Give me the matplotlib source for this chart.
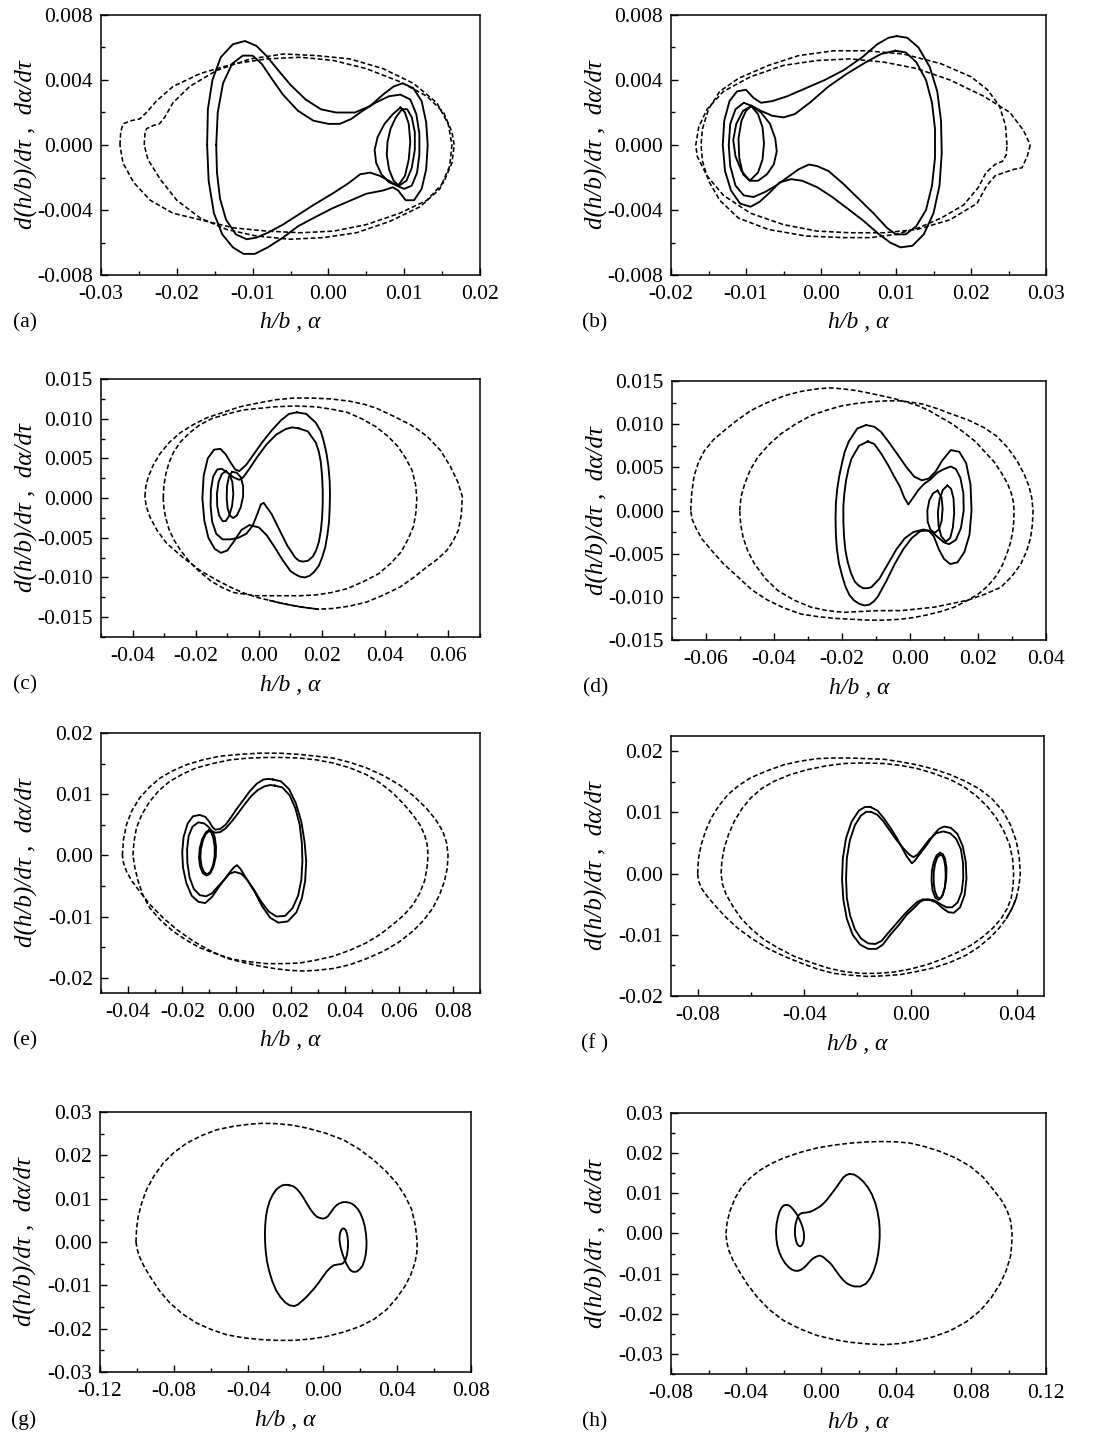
import matplotlib
matplotlib.use('Agg')
import matplotlib.pyplot as plt
from matplotlib.ticker import MultipleLocator, FuncFormatter

plt.rcParams['font.family'] = ['Liberation Serif', 'DejaVu Serif']
plt.rcParams['axes.unicode_minus'] = False

# ---------------- (a) ----------------
a_solid_outer = [(-0.0160, 0.0000), (-0.0159, 0.0022), (-0.0153, 0.0040), (-0.0142, 0.0054), (-0.0126, 0.0062),
                 (-0.0110, 0.0064), (-0.0095, 0.0061), (-0.0082, 0.0055), (-0.0068, 0.0047), (-0.0050, 0.0037),
                 (-0.0030, 0.0028), (-0.0010, 0.0022), (0.0010, 0.0020), (0.0035, 0.0020), (0.0055, 0.0024),
                 (0.0072, 0.0031), (0.0086, 0.0036), (0.0098, 0.0038), (0.0112, 0.0035), (0.0123, 0.0027),
                 (0.0129, 0.0014), (0.0131, 0.0000), (0.0129, -0.0015), (0.0123, -0.0027), (0.0113, -0.0034),
                 (0.0102, -0.0034), (0.0092, -0.0028), (0.0085, -0.0026), (0.0072, -0.0028), (0.0050, -0.0030),
                 (0.0025, -0.0035), (0.0005, -0.0039), (-0.0020, -0.0045), (-0.0040, -0.0050), (-0.0060, -0.0057),
                 (-0.0080, -0.0063), (-0.0097, -0.0067), (-0.0112, -0.0067), (-0.0126, -0.0063), (-0.0140, -0.0055),
                 (-0.0151, -0.0042), (-0.0158, -0.0022)]
a_solid_inner = [(-0.0148, 0.0000), (-0.0146, 0.0020), (-0.0139, 0.0038), (-0.0127, 0.0050), (-0.0113, 0.0055),
                 (-0.0100, 0.0055), (-0.0088, 0.0050), (-0.0075, 0.0041), (-0.0060, 0.0031), (-0.0040, 0.0021),
                 (-0.0020, 0.0015), (0.0000, 0.0013), (0.0015, 0.0013), (0.0030, 0.0016), (0.0045, 0.0021),
                 (0.0062, 0.0026), (0.0080, 0.0030), (0.0095, 0.0031), (0.0108, 0.0028), (0.0116, 0.0019),
                 (0.0120, 0.0007), (0.0120, -0.0006), (0.0117, -0.0017), (0.0110, -0.0025), (0.0100, -0.0027),
                 (0.0090, -0.0025), (0.0080, -0.0022), (0.0068, -0.0019), (0.0055, -0.0017), (0.0042, -0.0018),
                 (0.0025, -0.0024), (0.0005, -0.0030), (-0.0020, -0.0037), (-0.0040, -0.0043), (-0.0060, -0.0049),
                 (-0.0080, -0.0054), (-0.0095, -0.0057), (-0.0108, -0.0058), (-0.0122, -0.0055), (-0.0135, -0.0046),
                 (-0.0143, -0.0033), (-0.0147, -0.0017)]
a_solid_lemon1 = [(0.0095, 0.0023), (0.0085, 0.0019), (0.0074, 0.0013), (0.0065, 0.0005), (0.0061, -0.0003),
                  (0.0063, -0.0011), (0.0070, -0.0018), (0.0080, -0.0023), (0.0092, -0.0025), (0.0101, -0.0019),
                  (0.0106, -0.0009), (0.0108, 0.0002), (0.0106, 0.0013), (0.0101, 0.0020)]
a_solid_lemon2 = [(0.0097, 0.0022), (0.0089, 0.0017), (0.0082, 0.0010), (0.0078, 0.0002), (0.0077, -0.0006),
                  (0.0080, -0.0015), (0.0086, -0.0022), (0.0093, -0.0025), (0.0103, -0.0022), (0.0110, -0.0014),
                  (0.0114, -0.0003), (0.0114, 0.0008), (0.0110, 0.0017), (0.0104, 0.0022)]
a_dash_wide = [(-0.0275, 0.0000), (-0.0274, 0.0008), (-0.0271, 0.0013), (-0.0260, 0.0015), (-0.0249, 0.0016),
               (-0.0240, 0.0020), (-0.0227, 0.0027), (-0.0205, 0.0036), (-0.0169, 0.0044), (-0.0125, 0.0050),
               (-0.0081, 0.0053), (-0.0037, 0.0054), (0.0007, 0.0052), (0.0050, 0.0047), (0.0094, 0.0039),
               (0.0130, 0.0030), (0.0152, 0.0020), (0.0163, 0.0008), (0.0166, 0.0000), (0.0163, -0.0011),
               (0.0152, -0.0023), (0.0130, -0.0034), (0.0094, -0.0042), (0.0050, -0.0049), (0.0007, -0.0053),
               (-0.0037, -0.0054), (-0.0081, -0.0053), (-0.0125, -0.0051), (-0.0169, -0.0046), (-0.0205, -0.0042),
               (-0.0235, -0.0034), (-0.0257, -0.0023), (-0.0271, -0.0011)]
a_dash_narrow = [(-0.0243, 0.0000), (-0.0242, 0.0007), (-0.0240, 0.0010), (-0.0231, 0.0012), (-0.0223, 0.0013),
                 (-0.0216, 0.0017), (-0.0205, 0.0026), (-0.0183, 0.0036), (-0.0147, 0.0046), (-0.0103, 0.0053),
                 (-0.0059, 0.0056), (-0.0015, 0.0055), (0.0028, 0.0053), (0.0072, 0.0047), (0.0112, 0.0038),
                 (0.0143, 0.0026), (0.0158, 0.0013), (0.0163, 0.0000), (0.0160, -0.0013), (0.0147, -0.0027),
                 (0.0121, -0.0038), (0.0081, -0.0047), (0.0037, -0.0054), (-0.0007, -0.0057), (-0.0051, -0.0058),
                 (-0.0095, -0.0056), (-0.0134, -0.0052), (-0.0169, -0.0045), (-0.0200, -0.0034), (-0.0222, -0.0021),
                 (-0.0238, -0.0009)]

# ---------------- (b) ----------------
b_solid_outer = [(0.0101, 0.0067), (0.0115, 0.0066), (0.0130, 0.0060), (0.0145, 0.0048), (0.0155, 0.0033),
                 (0.0160, 0.0015), (0.0161, -0.0005), (0.0158, -0.0025), (0.0150, -0.0042), (0.0137, -0.0055),
                 (0.0122, -0.0062), (0.0106, -0.0063), (0.0092, -0.0060), (0.0075, -0.0054), (0.0055, -0.0046),
                 (0.0035, -0.0039), (0.0015, -0.0032), (-0.0005, -0.0026), (-0.0025, -0.0022), (-0.0040, -0.0021),
                 (-0.0055, -0.0023), (-0.0070, -0.0030), (-0.0082, -0.0035), (-0.0094, -0.0038), (-0.0108, -0.0036),
                 (-0.0120, -0.0028), (-0.0128, -0.0016), (-0.0131, 0.0000), (-0.0129, 0.0015), (-0.0122, 0.0027),
                 (-0.0112, 0.0033), (-0.0100, 0.0034), (-0.0090, 0.0029), (-0.0080, 0.0026), (-0.0065, 0.0027),
                 (-0.0045, 0.0030), (-0.0020, 0.0035), (0.0005, 0.0040), (0.0030, 0.0046), (0.0055, 0.0054),
                 (0.0075, 0.0062), (0.0090, 0.0066)]
b_solid_inner = [(0.0099, 0.0058), (0.0113, 0.0057), (0.0127, 0.0051), (0.0140, 0.0040), (0.0148, 0.0026),
                 (0.0152, 0.0010), (0.0152, -0.0008), (0.0148, -0.0025), (0.0140, -0.0040), (0.0127, -0.0050),
                 (0.0113, -0.0055), (0.0100, -0.0055), (0.0088, -0.0051), (0.0070, -0.0042), (0.0050, -0.0033),
                 (0.0030, -0.0024), (0.0010, -0.0016), (-0.0005, -0.0013), (-0.0016, -0.0012), (-0.0030, -0.0015),
                 (-0.0045, -0.0020), (-0.0060, -0.0025), (-0.0075, -0.0029), (-0.0090, -0.0032), (-0.0103, -0.0031),
                 (-0.0114, -0.0025), (-0.0121, -0.0013), (-0.0123, 0.0000), (-0.0121, 0.0013), (-0.0114, 0.0022),
                 (-0.0103, 0.0026), (-0.0092, 0.0024), (-0.0080, 0.0021), (-0.0065, 0.0018), (-0.0050, 0.0017),
                 (-0.0035, 0.0019), (-0.0015, 0.0026), (0.0010, 0.0036), (0.0035, 0.0044), (0.0060, 0.0051),
                 (0.0080, 0.0056)]
b_solid_lemon1 = [(-0.0093, 0.0024), (-0.0080, 0.0020), (-0.0068, 0.0013), (-0.0061, 0.0004), (-0.0059, -0.0004),
                  (-0.0063, -0.0012), (-0.0072, -0.0018), (-0.0084, -0.0022), (-0.0095, -0.0022), (-0.0106, -0.0016),
                  (-0.0114, -0.0007), (-0.0117, 0.0003), (-0.0113, 0.0013), (-0.0104, 0.0021)]
b_solid_lemon2 = [(-0.0093, 0.0024), (-0.0084, 0.0019), (-0.0078, 0.0011), (-0.0076, 0.0001), (-0.0078, -0.0009),
                  (-0.0084, -0.0017), (-0.0095, -0.0022), (-0.0104, -0.0018), (-0.0109, -0.0008), (-0.0110, 0.0004),
                  (-0.0106, 0.0015), (-0.0100, 0.0021)]
b_dash_wide = [(0.0279, 0.0000), (0.0275, -0.0007), (0.0268, -0.0014), (0.0257, -0.0015), (0.0244, -0.0017),
               (0.0232, -0.0019), (0.0221, -0.0025), (0.0208, -0.0036), (0.0172, -0.0046), (0.0128, -0.0052),
               (0.0084, -0.0054), (0.0039, -0.0054), (-0.0005, -0.0053), (-0.0050, -0.0049), (-0.0094, -0.0042),
               (-0.0130, -0.0031), (-0.0152, -0.0019), (-0.0165, -0.0007), (-0.0167, 0.0000), (-0.0163, 0.0011),
               (-0.0152, 0.0022), (-0.0130, 0.0033), (-0.0094, 0.0042), (-0.0050, 0.0049), (-0.0005, 0.0052),
               (0.0039, 0.0053), (0.0084, 0.0051), (0.0128, 0.0047), (0.0172, 0.0040), (0.0217, 0.0030),
               (0.0252, 0.0020), (0.0270, 0.0009)]
b_dash_narrow = [(0.0248, 0.0000), (0.0246, 0.0012), (0.0238, 0.0024), (0.0222, 0.0034), (0.0200, 0.0042),
                 (0.0160, 0.0050), (0.0110, 0.0056), (0.0060, 0.0058), (0.0017, 0.0058), (-0.0030, 0.0055),
                 (-0.0070, 0.0049), (-0.0110, 0.0041), (-0.0135, 0.0033), (-0.0150, 0.0022), (-0.0158, 0.0010),
                 (-0.0160, 0.0000), (-0.0158, -0.0010), (-0.0150, -0.0022), (-0.0135, -0.0034), (-0.0110, -0.0045),
                 (-0.0070, -0.0052), (-0.0020, -0.0056), (0.0030, -0.0057), (0.0066, -0.0057), (0.0100, -0.0055),
                 (0.0130, -0.0051), (0.0160, -0.0045), (0.0190, -0.0037), (0.0210, -0.0026), (0.0220, -0.0017),
                 (0.0232, -0.0012), (0.0242, -0.0010), (0.0247, -0.0006)]

# ---------------- (c) ----------------
c_solid_outer = [(0.0120, 0.0108), (0.0150, 0.0106), (0.0180, 0.0095), (0.0196, 0.0084), (0.0205, 0.0072),
                 (0.0214, 0.0056), (0.0220, 0.0040), (0.0224, 0.0022), (0.0225, 0.0005), (0.0224, -0.0013),
                 (0.0222, -0.0030), (0.0217, -0.0046), (0.0210, -0.0062), (0.0200, -0.0075), (0.0190, -0.0085),
                 (0.0175, -0.0093), (0.0160, -0.0098), (0.0145, -0.0100), (0.0130, -0.0099), (0.0115, -0.0096),
                 (0.0100, -0.0092), (0.0075, -0.0078), (0.0050, -0.0062), (0.0025, -0.0047),
                 (0.0000, -0.0037), (-0.0030, -0.0034), (-0.0055, -0.0040), (-0.0080, -0.0055), (-0.0100, -0.0066),
                 (-0.0120, -0.0069), (-0.0140, -0.0064), (-0.0160, -0.0050), (-0.0173, -0.0028), (-0.0179, 0.0000),
                 (-0.0175, 0.0028), (-0.0162, 0.0050), (-0.0142, 0.0061), (-0.0122, 0.0062), (-0.0105, 0.0055),
                 (-0.0090, 0.0045), (-0.0075, 0.0036), (-0.0062, 0.0034), (-0.0040, 0.0042), (-0.0015, 0.0056),
                 (0.0010, 0.0070), (0.0040, 0.0085), (0.0070, 0.0098), (0.0095, 0.0106)]
c_solid_inner = [(0.0125, 0.0088), (0.0155, 0.0084), (0.0180, 0.0070), (0.0190, 0.0058), (0.0196, 0.0045),
                 (0.0200, 0.0028), (0.0202, 0.0010), (0.0202, -0.0008), (0.0200, -0.0025), (0.0196, -0.0041),
                 (0.0190, -0.0055), (0.0181, -0.0066), (0.0170, -0.0074), (0.0155, -0.0079), (0.0140, -0.0080),
                 (0.0127, -0.0079), (0.0115, -0.0075),
                 (0.0090, -0.0060), (0.0065, -0.0040), (0.0040, -0.0020), (0.0015, -0.0006), (0.0006, -0.0008),
                 (-0.0005, -0.0020), (-0.0020, -0.0035), (-0.0040, -0.0045), (-0.0065, -0.0050), (-0.0090, -0.0052),
                 (-0.0115, -0.0052), (-0.0135, -0.0045), (-0.0148, -0.0030), (-0.0153, -0.0010), (-0.0152, 0.0010),
                 (-0.0145, 0.0027), (-0.0132, 0.0036), (-0.0118, 0.0037), (-0.0100, 0.0032), (-0.0080, 0.0026),
                 (-0.0062, 0.0023), (-0.0050, 0.0026), (-0.0030, 0.0037), (-0.0005, 0.0052), (0.0025, 0.0068),
                 (0.0055, 0.0080), (0.0085, 0.0087), (0.0105, 0.0089)]
c_solid_lemon1 = [(-0.0105, 0.0034), (-0.0118, 0.0030), (-0.0128, 0.0020), (-0.0133, 0.0005), (-0.0132, -0.0010),
                  (-0.0126, -0.0022), (-0.0115, -0.0029), (-0.0105, -0.0029), (-0.0094, -0.0022), (-0.0085, -0.0010),
                  (-0.0081, 0.0005), (-0.0084, 0.0020), (-0.0093, 0.0030)]
c_solid_lemon2 = [(-0.0085, 0.0033), (-0.0095, 0.0027), (-0.0101, 0.0015), (-0.0102, 0.0000), (-0.0099, -0.0013),
                  (-0.0092, -0.0022), (-0.0082, -0.0025), (-0.0070, -0.0022), (-0.0058, -0.0012), (-0.0050, 0.0002),
                  (-0.0050, 0.0015), (-0.0057, 0.0026), (-0.0070, 0.0032)]
c_dash_outer = [(-0.0361, 0.0002), (-0.0358, 0.0015), (-0.0350, 0.0027), (-0.0334, 0.0042), (-0.0313, 0.0056),
                (-0.0284, 0.0070), (-0.0250, 0.0082), (-0.0210, 0.0092), (-0.0166, 0.0101), (-0.0113, 0.0108),
                (-0.0060, 0.0115), (0.0000, 0.0120), (0.0056, 0.0124), (0.0110, 0.0126), (0.0162, 0.0126),
                (0.0225, 0.0125), (0.0288, 0.0122), (0.0335, 0.0118), (0.0373, 0.0113), (0.0427, 0.0103),
                (0.0482, 0.0092), (0.0532, 0.0078), (0.0575, 0.0060), (0.0606, 0.0040), (0.0630, 0.0020),
                (0.0644, 0.0002), (0.0641, -0.0020), (0.0632, -0.0040), (0.0615, -0.0054), (0.0595, -0.0066),
                (0.0565, -0.0077), (0.0531, -0.0087), (0.0490, -0.0100), (0.0447, -0.0112), (0.0395, -0.0122),
                (0.0341, -0.0131), (0.0288, -0.0136), (0.0236, -0.0139), (0.0188, -0.0140), (0.0130, -0.0137),
                (0.0077, -0.0133), (0.0035, -0.0129), (-0.0007, -0.0125), (-0.0045, -0.0120), (-0.0081, -0.0114),
                (-0.0135, -0.0103), (-0.0187, -0.0091), (-0.0240, -0.0075), (-0.0292, -0.0057), (-0.0322, -0.0041),
                (-0.0345, -0.0024), (-0.0357, -0.0010)]
# stretch of the outer dashed orbit that prints as a continuous line
c_dash_merged = [(0.0188, -0.0140), (0.0130, -0.0137), (0.0077, -0.0133), (0.0035, -0.0129)]
c_dash_inner = [(-0.0303, 0.0000), (-0.0301, 0.0015), (-0.0295, 0.0030), (-0.0285, 0.0044), (-0.0270, 0.0058),
                (-0.0248, 0.0071), (-0.0220, 0.0082), (-0.0188, 0.0092), (-0.0150, 0.0100), (-0.0100, 0.0106),
                (-0.0050, 0.0111), (0.0000, 0.0113), (0.0050, 0.0115), (0.0115, 0.0116), (0.0180, 0.0115),
                (0.0230, 0.0112), (0.0280, 0.0108), (0.0325, 0.0100), (0.0370, 0.0090), (0.0408, 0.0078),
                (0.0440, 0.0065), (0.0465, 0.0050), (0.0485, 0.0035), (0.0496, 0.0017), (0.0500, 0.0000),
                (0.0497, -0.0018), (0.0490, -0.0035), (0.0472, -0.0052), (0.0450, -0.0068), (0.0418, -0.0082),
                (0.0380, -0.0095), (0.0332, -0.0105), (0.0280, -0.0114), (0.0230, -0.0119), (0.0180, -0.0122),
                (0.0130, -0.0123), (0.0080, -0.0123), (0.0035, -0.0123), (-0.0010, -0.0123), (-0.0045, -0.0121),
                (-0.0080, -0.0119), (-0.0115, -0.0113), (-0.0150, -0.0105), (-0.0187, -0.0093), (-0.0220, -0.0080),
                (-0.0248, -0.0066), (-0.0270, -0.0052), (-0.0285, -0.0039), (-0.0295, -0.0025), (-0.0301, -0.0012)]

# ---------------- (d) ----------------
d_solid_outer = [(-0.0129, 0.0099), (-0.0155, 0.0095), (-0.0180, 0.0080), (-0.0192, 0.0068), (-0.0200, 0.0055),
                 (-0.0208, 0.0040), (-0.0214, 0.0025), (-0.0218, 0.0008), (-0.0219, -0.0010), (-0.0218, -0.0028),
                 (-0.0215, -0.0045), (-0.0209, -0.0061), (-0.0200, -0.0075), (-0.0190, -0.0088), (-0.0178, -0.0098),
                 (-0.0165, -0.0104), (-0.0150, -0.0108), (-0.0134, -0.0110), (-0.0119, -0.0109), (-0.0106, -0.0105),
                 (-0.0095, -0.0100), (-0.0070, -0.0082), (-0.0045, -0.0062), (-0.0020, -0.0045),
                 (0.0005, -0.0032), (0.0030, -0.0024), (0.0055, -0.0023), (0.0070, -0.0030), (0.0085, -0.0045),
                 (0.0100, -0.0056), (0.0118, -0.0062), (0.0140, -0.0060), (0.0160, -0.0048), (0.0175, -0.0028),
                 (0.0181, 0.0000), (0.0178, 0.0030), (0.0165, 0.0055), (0.0145, 0.0068), (0.0120, 0.0070),
                 (0.0095, 0.0058), (0.0075, 0.0045), (0.0055, 0.0037), (0.0035, 0.0035), (0.0013, 0.0039),
                 (-0.0010, 0.0050), (-0.0035, 0.0064), (-0.0060, 0.0078), (-0.0085, 0.0091), (-0.0105, 0.0097)]
d_solid_inner = [(-0.0124, 0.0080), (-0.0150, 0.0075), (-0.0172, 0.0060), (-0.0181, 0.0048), (-0.0188, 0.0035),
                 (-0.0193, 0.0020), (-0.0196, 0.0005), (-0.0196, -0.0013), (-0.0194, -0.0030), (-0.0190, -0.0046),
                 (-0.0183, -0.0060), (-0.0174, -0.0072), (-0.0163, -0.0082), (-0.0151, -0.0087), (-0.0138, -0.0090),
                 (-0.0126, -0.0090), (-0.0114, -0.0089),
                 (-0.0090, -0.0079), (-0.0065, -0.0062), (-0.0040, -0.0045), (-0.0015, -0.0032), (0.0010, -0.0025),
                 (0.0040, -0.0022), (0.0065, -0.0025), (0.0085, -0.0032), (0.0100, -0.0037), (0.0115, -0.0039),
                 (0.0135, -0.0034), (0.0150, -0.0020), (0.0158, 0.0000), (0.0157, 0.0020), (0.0148, 0.0038),
                 (0.0135, 0.0048), (0.0120, 0.0051), (0.0100, 0.0048), (0.0081, 0.0044), (0.0060, 0.0036),
                 (0.0042, 0.0031), (0.0025, 0.0024), (0.0013, 0.0017), (-0.0005, 0.0007), (-0.0017, 0.0015),
                 (-0.0030, 0.0028), (-0.0046, 0.0039), (-0.0065, 0.0053), (-0.0085, 0.0066), (-0.0105, 0.0077)]
d_solid_loop1 = [(0.0081, 0.0023), (0.0068, 0.0020), (0.0057, 0.0012), (0.0051, 0.0000), (0.0052, -0.0013),
                 (0.0060, -0.0022), (0.0072, -0.0026), (0.0085, -0.0022), (0.0093, -0.0012), (0.0096, 0.0002),
                 (0.0093, 0.0015)]
d_solid_loop2 = [(0.0110, 0.0029), (0.0097, 0.0024), (0.0087, 0.0013), (0.0082, -0.0002), (0.0084, -0.0018),
                 (0.0092, -0.0030), (0.0105, -0.0036), (0.0118, -0.0032), (0.0126, -0.0020), (0.0130, -0.0003),
                 (0.0128, 0.0014), (0.0121, 0.0025)]
d_dash_wide = [(-0.0645, 0.0000), (-0.0642, 0.0020), (-0.0635, 0.0040), (-0.0622, 0.0056), (-0.0605, 0.0069),
               (-0.0578, 0.0082), (-0.0545, 0.0093), (-0.0507, 0.0105), (-0.0467, 0.0116), (-0.0420, 0.0125),
               (-0.0369, 0.0133), (-0.0320, 0.0138), (-0.0271, 0.0141), (-0.0235, 0.0142), (-0.0200, 0.0141),
               (-0.0160, 0.0139), (-0.0120, 0.0136), (-0.0085, 0.0133), (-0.0050, 0.0130), (-0.0015, 0.0126),
               (0.0020, 0.0122), (0.0055, 0.0116), (0.0090, 0.0108), (0.0125, 0.0100), (0.0160, 0.0090),
               (0.0192, 0.0080), (0.0220, 0.0068), (0.0248, 0.0056), (0.0270, 0.0043), (0.0287, 0.0031),
               (0.0298, 0.0020), (0.0304, 0.0010), (0.0306, 0.0000), (0.0305, -0.0013), (0.0302, -0.0025),
               (0.0295, -0.0038), (0.0285, -0.0050), (0.0272, -0.0063), (0.0255, -0.0075), (0.0230, -0.0087),
               (0.0200, -0.0097), (0.0165, -0.0105), (0.0130, -0.0112), (0.0090, -0.0117), (0.0050, -0.0121),
               (0.0010, -0.0124), (-0.0030, -0.0126), (-0.0075, -0.0127), (-0.0120, -0.0127), (-0.0170, -0.0126),
               (-0.0220, -0.0125), (-0.0270, -0.0123), (-0.0320, -0.0120), (-0.0370, -0.0113), (-0.0418, -0.0104),
               (-0.0465, -0.0092), (-0.0506, -0.0077), (-0.0548, -0.0062), (-0.0584, -0.0046), (-0.0612, -0.0033),
               (-0.0630, -0.0020), (-0.0641, -0.0010)]
d_dash_narrow = [(-0.0501, 0.0000), (-0.0497, 0.0016), (-0.0486, 0.0031), (-0.0470, 0.0047), (-0.0447, 0.0062),
                 (-0.0416, 0.0076), (-0.0379, 0.0089), (-0.0337, 0.0100), (-0.0291, 0.0110), (-0.0247, 0.0116),
                 (-0.0203, 0.0121), (-0.0158, 0.0124), (-0.0114, 0.0126), (-0.0070, 0.0127), (-0.0026, 0.0127),
                 (0.0010, 0.0125), (0.0040, 0.0123), (0.0080, 0.0118), (0.0120, 0.0112), (0.0170, 0.0105),
                 (0.0218, 0.0096), (0.0255, 0.0086), (0.0287, 0.0073), (0.0314, 0.0058), (0.0336, 0.0042),
                 (0.0350, 0.0028), (0.0358, 0.0015), (0.0362, 0.0000), (0.0360, -0.0016), (0.0355, -0.0031),
                 (0.0343, -0.0047), (0.0326, -0.0062), (0.0300, -0.0076), (0.0267, -0.0089), (0.0220, -0.0097),
                 (0.0169, -0.0104), (0.0120, -0.0108), (0.0071, -0.0112), (0.0022, -0.0114), (-0.0026, -0.0116),
                 (-0.0060, -0.0116), (-0.0095, -0.0116), (-0.0145, -0.0117), (-0.0193, -0.0118), (-0.0243, -0.0116),
                 (-0.0291, -0.0112), (-0.0340, -0.0104), (-0.0388, -0.0093), (-0.0425, -0.0079), (-0.0457, -0.0062),
                 (-0.0477, -0.0047), (-0.0491, -0.0031), (-0.0498, -0.0016)]

# ---------------- (e) ----------------
e_solid_outer = [(0.0135, 0.0124), (0.0165, 0.0121), (0.0195, 0.0108), (0.0220, 0.0085), (0.0240, 0.0055),
                 (0.0252, 0.0022), (0.0258, -0.0010), (0.0254, -0.0042), (0.0242, -0.0070), (0.0222, -0.0093),
                 (0.0190, -0.0108), (0.0155, -0.0110), (0.0125, -0.0102), (0.0095, -0.0083), (0.0068, -0.0060),
                 (0.0040, -0.0040), (0.0015, -0.0022), (0.0002, -0.0016), (-0.0010, -0.0020), (-0.0025, -0.0028),
                 (-0.0045, -0.0040), (-0.0065, -0.0052), (-0.0090, -0.0068), (-0.0115, -0.0078), (-0.0140, -0.0076),
                 (-0.0165, -0.0066), (-0.0185, -0.0045), (-0.0197, -0.0020), (-0.0200, 0.0005), (-0.0195, 0.0030),
                 (-0.0180, 0.0052), (-0.0160, 0.0064), (-0.0135, 0.0066), (-0.0115, 0.0063), (-0.0100, 0.0055),
                 (-0.0088, 0.0046), (-0.0078, 0.0042), (-0.0060, 0.0043), (-0.0040, 0.0050), (-0.0020, 0.0062),
                 (0.0000, 0.0075), (0.0025, 0.0090), (0.0050, 0.0105), (0.0075, 0.0117), (0.0100, 0.0124),
                 (0.0120, 0.0125)]
e_solid_inner = [(0.0142, 0.0114), (0.0170, 0.0111), (0.0197, 0.0098), (0.0218, 0.0077), (0.0234, 0.0050),
                 (0.0242, 0.0020), (0.0244, -0.0010), (0.0240, -0.0040), (0.0228, -0.0066), (0.0208, -0.0086),
                 (0.0180, -0.0099), (0.0148, -0.0100), (0.0120, -0.0092), (0.0092, -0.0076), (0.0065, -0.0056),
                 (0.0040, -0.0040), (0.0018, -0.0030), (-0.0006, -0.0027), (-0.0025, -0.0030), (-0.0045, -0.0040),
                 (-0.0068, -0.0051), (-0.0090, -0.0062), (-0.0112, -0.0067), (-0.0135, -0.0065), (-0.0157, -0.0055),
                 (-0.0173, -0.0036), (-0.0181, -0.0012), (-0.0182, 0.0010), (-0.0176, 0.0032), (-0.0162, 0.0047),
                 (-0.0140, 0.0054), (-0.0118, 0.0052), (-0.0104, 0.0047), (-0.0092, 0.0040), (-0.0078, 0.0037),
                 (-0.0060, 0.0038), (-0.0040, 0.0044), (-0.0018, 0.0055), (0.0005, 0.0068), (0.0030, 0.0083),
                 (0.0055, 0.0097), (0.0080, 0.0107), (0.0105, 0.0113), (0.0125, 0.0115)]
e_solid_loop1 = [(-0.0098, 0.0042), (-0.0112, 0.0038), (-0.0126, 0.0027), (-0.0135, 0.0012), (-0.0138, -0.0004),
                 (-0.0134, -0.0018), (-0.0124, -0.0029), (-0.0110, -0.0033), (-0.0097, -0.0030), (-0.0084, -0.0018),
                 (-0.0076, -0.0002), (-0.0075, 0.0014), (-0.0080, 0.0030), (-0.0088, 0.0039)]
e_solid_loop2 = [(-0.0100, 0.0040), (-0.0113, 0.0035), (-0.0124, 0.0024), (-0.0131, 0.0010), (-0.0133, -0.0004),
                 (-0.0129, -0.0017), (-0.0120, -0.0027), (-0.0108, -0.0031), (-0.0096, -0.0027), (-0.0086, -0.0016),
                 (-0.0080, -0.0001), (-0.0080, 0.0014), (-0.0085, 0.0028), (-0.0092, 0.0037)]
e_dash_outer = [(-0.0421, 0.0000), (-0.0417, 0.0026), (-0.0406, 0.0050), (-0.0386, 0.0073), (-0.0357, 0.0094),
                (-0.0322, 0.0111), (-0.0283, 0.0126), (-0.0236, 0.0138), (-0.0185, 0.0148), (-0.0125, 0.0156),
                (-0.0062, 0.0162), (0.0010, 0.0165), (0.0086, 0.0167), (0.0160, 0.0167), (0.0234, 0.0165),
                (0.0297, 0.0162), (0.0357, 0.0159), (0.0420, 0.0152), (0.0480, 0.0143), (0.0545, 0.0130),
                (0.0603, 0.0115), (0.0655, 0.0097), (0.0702, 0.0077), (0.0737, 0.0058), (0.0763, 0.0039),
                (0.0777, 0.0020), (0.0782, 0.0000), (0.0779, -0.0021), (0.0769, -0.0042), (0.0751, -0.0064),
                (0.0726, -0.0086), (0.0692, -0.0106), (0.0652, -0.0124), (0.0600, -0.0142), (0.0542, -0.0157),
                (0.0480, -0.0169), (0.0418, -0.0179), (0.0357, -0.0185), (0.0295, -0.0188), (0.0245, -0.0189),
                (0.0197, -0.0188), (0.0140, -0.0185), (0.0086, -0.0181), (0.0025, -0.0175), (-0.0037, -0.0168),
                (-0.0100, -0.0155), (-0.0160, -0.0140), (-0.0218, -0.0122), (-0.0271, -0.0102), (-0.0318, -0.0081),
                (-0.0357, -0.0059), (-0.0386, -0.0042), (-0.0406, -0.0026), (-0.0417, -0.0012)]
e_dash_inner = [(-0.0382, 0.0000), (-0.0378, 0.0023), (-0.0369, 0.0045), (-0.0349, 0.0067), (-0.0320, 0.0088),
                (-0.0286, 0.0106), (-0.0246, 0.0121), (-0.0198, 0.0133), (-0.0148, 0.0143), (-0.0088, 0.0150),
                (-0.0025, 0.0156), (0.0045, 0.0159), (0.0111, 0.0160), (0.0172, 0.0160), (0.0234, 0.0159),
                (0.0297, 0.0156), (0.0357, 0.0151), (0.0420, 0.0143), (0.0480, 0.0132), (0.0532, 0.0118),
                (0.0578, 0.0102), (0.0618, 0.0084), (0.0652, 0.0066), (0.0678, 0.0050), (0.0695, 0.0034),
                (0.0705, 0.0017), (0.0708, 0.0000), (0.0704, -0.0021), (0.0695, -0.0042), (0.0677, -0.0062),
                (0.0652, -0.0081), (0.0618, -0.0098), (0.0578, -0.0113), (0.0532, -0.0129), (0.0480, -0.0143),
                (0.0420, -0.0155), (0.0357, -0.0165), (0.0297, -0.0171), (0.0234, -0.0176), (0.0172, -0.0177),
                (0.0111, -0.0177), (0.0050, -0.0174), (-0.0012, -0.0170), (-0.0075, -0.0161), (-0.0135, -0.0151),
                (-0.0187, -0.0138), (-0.0234, -0.0124), (-0.0280, -0.0106), (-0.0320, -0.0086), (-0.0345, -0.0065),
                (-0.0363, -0.0042), (-0.0375, -0.0020)]

# ---------------- (f) ----------------
f_solid_outer = [(-0.0152, 0.0109), (-0.0125, 0.0103), (-0.0102, 0.0091), (-0.0075, 0.0074), (-0.0052, 0.0058),
                 (-0.0030, 0.0040), (-0.0015, 0.0028), (0.0004, 0.0017), (0.0015, 0.0021), (0.0030, 0.0030),
                 (0.0060, 0.0047), (0.0085, 0.0063), (0.0105, 0.0073), (0.0125, 0.0077), (0.0150, 0.0075),
                 (0.0175, 0.0065), (0.0195, 0.0045), (0.0206, 0.0020), (0.0209, -0.0008), (0.0202, -0.0035),
                 (0.0185, -0.0055), (0.0162, -0.0064), (0.0141, -0.0063), (0.0118, -0.0056), (0.0095, -0.0047),
                 (0.0072, -0.0043), (0.0050, -0.0043), (0.0035, -0.0046), (0.0010, -0.0057), (-0.0015, -0.0067),
                 (-0.0045, -0.0084), (-0.0077, -0.0100), (-0.0105, -0.0116), (-0.0129, -0.0123), (-0.0160, -0.0123),
                 (-0.0190, -0.0116), (-0.0218, -0.0100), (-0.0240, -0.0074), (-0.0253, -0.0043), (-0.0258, -0.0010),
                 (-0.0255, 0.0025), (-0.0243, 0.0058), (-0.0222, 0.0085), (-0.0195, 0.0103), (-0.0172, 0.0109)]
f_solid_inner = [(-0.0149, 0.0101), (-0.0125, 0.0096), (-0.0102, 0.0085), (-0.0075, 0.0068), (-0.0050, 0.0053),
                 (-0.0025, 0.0040), (-0.0005, 0.0031), (0.0010, 0.0027), (0.0025, 0.0031), (0.0045, 0.0042),
                 (0.0070, 0.0056), (0.0095, 0.0066), (0.0122, 0.0069), (0.0148, 0.0066), (0.0170, 0.0057),
                 (0.0188, 0.0040), (0.0196, 0.0018), (0.0197, -0.0007), (0.0191, -0.0030), (0.0176, -0.0047),
                 (0.0155, -0.0055), (0.0134, -0.0055), (0.0112, -0.0050), (0.0090, -0.0044), (0.0068, -0.0042),
                 (0.0045, -0.0042), (0.0025, -0.0046), (0.0000, -0.0056), (-0.0025, -0.0067), (-0.0055, -0.0082),
                 (-0.0085, -0.0097), (-0.0110, -0.0110), (-0.0133, -0.0115), (-0.0160, -0.0114), (-0.0187, -0.0106),
                 (-0.0210, -0.0091), (-0.0228, -0.0068), (-0.0240, -0.0040), (-0.0243, -0.0008), (-0.0240, 0.0025),
                 (-0.0229, 0.0054), (-0.0210, 0.0079), (-0.0187, 0.0095), (-0.0167, 0.0101)]
f_solid_loop1 = [(0.0110, 0.0034), (0.0097, 0.0030), (0.0086, 0.0019), (0.0079, 0.0004), (0.0078, -0.0012),
                 (0.0082, -0.0028), (0.0092, -0.0039), (0.0104, -0.0043), (0.0116, -0.0038), (0.0127, -0.0025),
                 (0.0133, -0.0008), (0.0134, 0.0010), (0.0128, 0.0025), (0.0120, 0.0032)]
f_solid_loop2 = [(0.0112, 0.0031), (0.0100, 0.0027), (0.0091, 0.0016), (0.0086, 0.0002), (0.0086, -0.0014),
                 (0.0090, -0.0028), (0.0099, -0.0038), (0.0110, -0.0041), (0.0120, -0.0035), (0.0128, -0.0022),
                 (0.0131, -0.0006), (0.0130, 0.0010), (0.0125, 0.0023), (0.0119, 0.0029)]
f_dash_outer = [(-0.0800, 0.0000), (-0.0797, 0.0024), (-0.0787, 0.0047), (-0.0770, 0.0070), (-0.0749, 0.0091),
                (-0.0720, 0.0111), (-0.0687, 0.0129), (-0.0646, 0.0144), (-0.0600, 0.0157), (-0.0540, 0.0168),
                (-0.0476, 0.0178), (-0.0414, 0.0184), (-0.0351, 0.0188), (-0.0290, 0.0189), (-0.0227, 0.0189),
                (-0.0165, 0.0188), (-0.0102, 0.0187), (-0.0040, 0.0183), (0.0022, 0.0178), (0.0085, 0.0171),
                (0.0147, 0.0162), (0.0205, 0.0151), (0.0259, 0.0138), (0.0306, 0.0122), (0.0346, 0.0102),
                (0.0375, 0.0079), (0.0396, 0.0053), (0.0407, 0.0027), (0.0411, 0.0000), (0.0406, -0.0020),
                (0.0396, -0.0040), (0.0380, -0.0057), (0.0359, -0.0073), (0.0330, -0.0090), (0.0296, -0.0105),
                (0.0255, -0.0120), (0.0209, -0.0133), (0.0148, -0.0145), (0.0085, -0.0154), (0.0022, -0.0160),
                (-0.0040, -0.0165), (-0.0102, -0.0167), (-0.0164, -0.0168), (-0.0227, -0.0166), (-0.0289, -0.0163),
                (-0.0351, -0.0156), (-0.0413, -0.0146), (-0.0476, -0.0135), (-0.0538, -0.0122), (-0.0597, -0.0106),
                (-0.0650, -0.0089), (-0.0697, -0.0070), (-0.0737, -0.0051), (-0.0766, -0.0036), (-0.0787, -0.0023),
                (-0.0797, -0.0011)]
f_dash_merged = [(0.0396, -0.0040), (0.0380, -0.0057), (0.0359, -0.0073)]
f_dash_inner = [(-0.0712, 0.0000), (-0.0709, 0.0021), (-0.0700, 0.0042), (-0.0684, 0.0064), (-0.0662, 0.0086),
                (-0.0634, 0.0106), (-0.0600, 0.0124), (-0.0560, 0.0139), (-0.0513, 0.0151), (-0.0452, 0.0162),
                (-0.0388, 0.0170), (-0.0320, 0.0176), (-0.0251, 0.0180), (-0.0176, 0.0181), (-0.0102, 0.0180),
                (-0.0040, 0.0177), (0.0022, 0.0172), (0.0085, 0.0164), (0.0147, 0.0154), (0.0200, 0.0142),
                (0.0246, 0.0127), (0.0287, 0.0110), (0.0321, 0.0091), (0.0349, 0.0070), (0.0371, 0.0047),
                (0.0382, 0.0024), (0.0386, 0.0000), (0.0384, -0.0020), (0.0377, -0.0040), (0.0362, -0.0057),
                (0.0340, -0.0073), (0.0308, -0.0089), (0.0271, -0.0103), (0.0230, -0.0116), (0.0184, -0.0127),
                (0.0122, -0.0139), (0.0060, -0.0149), (-0.0002, -0.0156), (-0.0065, -0.0161), (-0.0127, -0.0163),
                (-0.0189, -0.0163), (-0.0251, -0.0160), (-0.0314, -0.0154), (-0.0376, -0.0145), (-0.0438, -0.0135),
                (-0.0496, -0.0122), (-0.0550, -0.0108), (-0.0597, -0.0091), (-0.0637, -0.0073), (-0.0667, -0.0054),
                (-0.0693, -0.0034), (-0.0707, -0.0017)]

# ---------------- (g) ----------------
g_solid = [(-0.0180, 0.0131), (-0.0160, 0.0129), (-0.0140, 0.0123), (-0.0120, 0.0113), (-0.0100, 0.0100),
           (-0.0080, 0.0085), (-0.0060, 0.0072), (-0.0045, 0.0064), (-0.0030, 0.0058), (-0.0012, 0.0055),
           (0.0005, 0.0054), (0.0018, 0.0056), (0.0030, 0.0060), (0.0045, 0.0069), (0.0060, 0.0078),
           (0.0075, 0.0085), (0.0090, 0.0089), (0.0110, 0.0092), (0.0129, 0.0092), (0.0150, 0.0090),
           (0.0170, 0.0085), (0.0190, 0.0076), (0.0205, 0.0065), (0.0218, 0.0051), (0.0228, 0.0035),
           (0.0234, 0.0018), (0.0237, 0.0000), (0.0236, -0.0015), (0.0232, -0.0030), (0.0225, -0.0043),
           (0.0215, -0.0055), (0.0200, -0.0063), (0.0185, -0.0068), (0.0172, -0.0069), (0.0160, -0.0068),
           (0.0148, -0.0064), (0.0138, -0.0058), (0.0128, -0.0050), (0.0120, -0.0042), (0.0110, -0.0031),
           (0.0102, -0.0020), (0.0095, -0.0008), (0.0091, 0.0005), (0.0092, 0.0014), (0.0095, 0.0022),
           (0.0101, 0.0028), (0.0108, 0.0031), (0.0116, 0.0031), (0.0124, 0.0028), (0.0130, 0.0021),
           (0.0134, 0.0013), (0.0137, 0.0003), (0.0137, -0.0008), (0.0135, -0.0019), (0.0131, -0.0030),
           (0.0125, -0.0039), (0.0118, -0.0045), (0.0110, -0.0049), (0.0100, -0.0051), (0.0080, -0.0052),
           (0.0058, -0.0054), (0.0040, -0.0060), (0.0022, -0.0068), (0.0000, -0.0081), (-0.0023, -0.0095),
           (-0.0045, -0.0107), (-0.0068, -0.0118), (-0.0090, -0.0128), (-0.0113, -0.0137), (-0.0135, -0.0145),
           (-0.0155, -0.0148), (-0.0178, -0.0146), (-0.0200, -0.0140), (-0.0226, -0.0128), (-0.0250, -0.0112),
           (-0.0271, -0.0091), (-0.0288, -0.0067), (-0.0300, -0.0044), (-0.0307, -0.0020), (-0.0310, 0.0000),
           (-0.0311, 0.0020), (-0.0309, 0.0040), (-0.0305, 0.0060), (-0.0297, 0.0078), (-0.0285, 0.0095),
           (-0.0269, 0.0109), (-0.0250, 0.0121), (-0.0232, 0.0127), (-0.0215, 0.0131), (-0.0197, 0.0132)]
g_dash = [(-0.1006, 0.0000), (-0.1003, 0.0030), (-0.0994, 0.0059), (-0.0975, 0.0090), (-0.0949, 0.0121),
          (-0.0908, 0.0153), (-0.0859, 0.0182), (-0.0800, 0.0207), (-0.0733, 0.0228), (-0.0655, 0.0245),
          (-0.0571, 0.0259), (-0.0480, 0.0267), (-0.0392, 0.0272), (-0.0320, 0.0274), (-0.0248, 0.0273),
          (-0.0170, 0.0270), (-0.0086, 0.0263), (0.0010, 0.0252), (0.0111, 0.0236), (0.0195, 0.0215),
          (0.0273, 0.0190), (0.0340, 0.0164), (0.0399, 0.0136), (0.0445, 0.0106), (0.0480, 0.0075),
          (0.0500, 0.0038), (0.0510, 0.0000), (0.0508, -0.0024), (0.0498, -0.0048), (0.0475, -0.0076),
          (0.0444, -0.0102), (0.0398, -0.0130), (0.0345, -0.0156), (0.0278, -0.0178), (0.0201, -0.0195),
          (0.0112, -0.0208), (0.0022, -0.0218), (-0.0068, -0.0224), (-0.0158, -0.0227), (-0.0248, -0.0227),
          (-0.0338, -0.0225), (-0.0428, -0.0221), (-0.0518, -0.0214), (-0.0600, -0.0202), (-0.0679, -0.0187),
          (-0.0755, -0.0166), (-0.0823, -0.0141), (-0.0880, -0.0112), (-0.0931, -0.0079), (-0.0963, -0.0056),
          (-0.0988, -0.0033), (-0.1000, -0.0016)]

# ---------------- (h) ----------------
h_solid = [(0.0153, 0.0148), (0.0175, 0.0147), (0.0200, 0.0140), (0.0226, 0.0129), (0.0250, 0.0115),
           (0.0272, 0.0097), (0.0290, 0.0075), (0.0302, 0.0053), (0.0310, 0.0030), (0.0313, 0.0010),
           (0.0313, -0.0010), (0.0310, -0.0030), (0.0305, -0.0050), (0.0295, -0.0073), (0.0280, -0.0095),
           (0.0262, -0.0112), (0.0240, -0.0125), (0.0210, -0.0132), (0.0178, -0.0132), (0.0158, -0.0129),
           (0.0140, -0.0125), (0.0120, -0.0117), (0.0103, -0.0108), (0.0080, -0.0093), (0.0060, -0.0080),
           (0.0045, -0.0072), (0.0032, -0.0067), (0.0018, -0.0061), (0.0005, -0.0057), (-0.0008, -0.0055),
           (-0.0021, -0.0057), (-0.0035, -0.0060), (-0.0050, -0.0065), (-0.0062, -0.0071), (-0.0075, -0.0078),
           (-0.0090, -0.0085), (-0.0105, -0.0090), (-0.0121, -0.0093), (-0.0137, -0.0093), (-0.0155, -0.0090),
           (-0.0170, -0.0085), (-0.0192, -0.0074), (-0.0210, -0.0060), (-0.0223, -0.0046), (-0.0233, -0.0030),
           (-0.0238, -0.0013), (-0.0240, 0.0005), (-0.0237, 0.0023), (-0.0230, 0.0040), (-0.0222, 0.0053),
           (-0.0212, 0.0063), (-0.0201, 0.0069), (-0.0190, 0.0071), (-0.0177, 0.0071), (-0.0165, 0.0068),
           (-0.0152, 0.0062), (-0.0140, 0.0055), (-0.0128, 0.0047), (-0.0118, 0.0038), (-0.0107, 0.0027),
           (-0.0098, 0.0015), (-0.0092, 0.0004), (-0.0090, -0.0008), (-0.0092, -0.0017), (-0.0096, -0.0024),
           (-0.0103, -0.0030), (-0.0110, -0.0032), (-0.0118, -0.0031), (-0.0126, -0.0027), (-0.0132, -0.0020),
           (-0.0136, -0.0012), (-0.0139, -0.0002), (-0.0139, 0.0008), (-0.0137, 0.0020), (-0.0132, 0.0030),
           (-0.0126, 0.0039), (-0.0120, 0.0045), (-0.0110, 0.0049), (-0.0100, 0.0051), (-0.0080, 0.0052),
           (-0.0057, 0.0054), (-0.0038, 0.0058), (-0.0020, 0.0063), (-0.0003, 0.0068), (0.0014, 0.0075),
           (0.0032, 0.0084), (0.0050, 0.0095), (0.0068, 0.0106), (0.0085, 0.0117), (0.0103, 0.0129),
           (0.0120, 0.0140), (0.0137, 0.0146)]
h_dash = [(-0.0507, 0.0000), (-0.0500, 0.0030), (-0.0484, 0.0058), (-0.0458, 0.0088), (-0.0421, 0.0117),
          (-0.0376, 0.0139), (-0.0324, 0.0158), (-0.0265, 0.0174), (-0.0199, 0.0188), (-0.0110, 0.0202),
          (-0.0021, 0.0213), (0.0068, 0.0220), (0.0156, 0.0225), (0.0245, 0.0228), (0.0334, 0.0229),
          (0.0405, 0.0228), (0.0476, 0.0225), (0.0556, 0.0216), (0.0636, 0.0204), (0.0718, 0.0188),
          (0.0796, 0.0167), (0.0865, 0.0140), (0.0921, 0.0108), (0.0962, 0.0083), (0.0992, 0.0058),
          (0.1012, 0.0030), (0.1019, 0.0000), (0.1017, -0.0030), (0.1010, -0.0058), (0.0988, -0.0092),
          (0.0956, -0.0125), (0.0908, -0.0160), (0.0850, -0.0192), (0.0775, -0.0220), (0.0690, -0.0242),
          (0.0602, -0.0257), (0.0512, -0.0267), (0.0423, -0.0274), (0.0334, -0.0277), (0.0245, -0.0275),
          (0.0156, -0.0271), (0.0068, -0.0264), (-0.0021, -0.0254), (-0.0110, -0.0238), (-0.0199, -0.0217),
          (-0.0275, -0.0190), (-0.0341, -0.0158), (-0.0395, -0.0125), (-0.0439, -0.0092), (-0.0470, -0.0066),
          (-0.0492, -0.0042), (-0.0503, -0.0020)]

# panel layout in pixels: left, top, right, bottom of the plot box
panels = [
    dict(tag='(a)', box=(101, 15, 480, 275), xlim=(-0.03, 0.02), ylim=(-0.008, 0.008),
         xt=(0.01, 0.005), yt=(0.004, 0.002), xf='%.2f', yf='%.3f',
         solid=[a_solid_outer, a_solid_inner, a_solid_lemon1, a_solid_lemon2],
         dashed=[a_dash_wide, a_dash_narrow], merged=[]),
    dict(tag='(b)', box=(671, 15, 1046, 275), xlim=(-0.02, 0.03), ylim=(-0.008, 0.008),
         xt=(0.01, 0.005), yt=(0.004, 0.002), xf='%.2f', yf='%.3f',
         solid=[b_solid_outer, b_solid_inner, b_solid_lemon1, b_solid_lemon2],
         dashed=[b_dash_wide, b_dash_narrow], merged=[]),
    dict(tag='(c)', box=(101, 379, 480, 637), xlim=(-0.05, 0.07), ylim=(-0.0175, 0.015),
         xt=(0.02, 0.01), yt=(0.005, 0.0025), xf='%.2f', yf='%.3f',
         solid=[c_solid_outer, c_solid_inner, c_solid_lemon1, c_solid_lemon2],
         dashed=[c_dash_outer, c_dash_inner], merged=[c_dash_merged]),
    dict(tag='(d)', box=(672, 381, 1046, 640), xlim=(-0.07, 0.04), ylim=(-0.015, 0.015),
         xt=(0.02, 0.01), yt=(0.005, 0.0025), xf='%.2f', yf='%.3f',
         solid=[d_solid_outer, d_solid_inner, d_solid_loop1, d_solid_loop2],
         dashed=[d_dash_wide, d_dash_narrow], merged=[]),
    dict(tag='(e)', box=(101, 733, 480, 993), xlim=(-0.05, 0.09), ylim=(-0.0225, 0.02),
         xt=(0.02, 0.01), yt=(0.01, 0.005), xf='%.2f', yf='%.2f',
         solid=[e_solid_outer, e_solid_inner, e_solid_loop1, e_solid_loop2],
         dashed=[e_dash_outer, e_dash_inner], merged=[]),
    dict(tag='(f )', box=(671, 736, 1044, 996), xlim=(-0.09, 0.05), ylim=(-0.02, 0.0225),
         xt=(0.04, 0.02), yt=(0.01, 0.005), xf='%.2f', yf='%.2f',
         solid=[f_solid_outer, f_solid_inner, f_solid_loop1, f_solid_loop2],
         dashed=[f_dash_outer, f_dash_inner], merged=[f_dash_merged]),
    dict(tag='(g)', box=(100, 1112, 471, 1372), xlim=(-0.12, 0.08), ylim=(-0.03, 0.03),
         xt=(0.04, 0.02), yt=(0.01, 0.005), xf='%.2f', yf='%.2f',
         solid=[g_solid], dashed=[g_dash], merged=[]),
    dict(tag='(h)', box=(671, 1113, 1046, 1374), xlim=(-0.08, 0.12), ylim=(-0.035, 0.03),
         xt=(0.04, 0.02), yt=(0.01, 0.005), xf='%.2f', yf='%.2f',
         solid=[h_solid], dashed=[h_dash], merged=[]),
]

W, H = 1105, 1435
fig = plt.figure(figsize=(W / 100, H / 100), dpi=100)


def fmt(f):
    def _f(v, pos):
        if abs(v) < 1e-10:
            v = 0.0
        return f % v
    return FuncFormatter(_f)


for p in panels:
    l, t, r, b = p['box']
    ax = fig.add_axes([l / W, 1 - b / H, (r - l) / W, (b - t) / H])
    for loop in p['solid']:
        xs = [q[0] for q in loop] + [loop[0][0]]
        ys = [q[1] for q in loop] + [loop[0][1]]
        ax.plot(xs, ys, color='k', lw=1.35, solid_joinstyle='round')
    for loop in p['dashed']:
        xs = [q[0] for q in loop] + [loop[0][0]]
        ys = [q[1] for q in loop] + [loop[0][1]]
        ax.plot(xs, ys, color='k', lw=1.15, ls=(0, (3, 1.6)))
    for seg in p['merged']:
        ax.plot([q[0] for q in seg], [q[1] for q in seg], color='k', lw=1.2)
    ax.set_xlim(*p['xlim'])
    ax.set_ylim(*p['ylim'])
    ax.xaxis.set_major_locator(MultipleLocator(p['xt'][0]))
    ax.xaxis.set_minor_locator(MultipleLocator(p['xt'][1]))
    ax.yaxis.set_major_locator(MultipleLocator(p['yt'][0]))
    ax.yaxis.set_minor_locator(MultipleLocator(p['yt'][1]))
    ax.xaxis.set_major_formatter(fmt(p['xf']))
    ax.yaxis.set_major_formatter(fmt(p['yf']))
    ax.tick_params(which='both', direction='in', top=False, right=False, labelsize=15.5)
    ax.tick_params(axis='x', which='major', pad=7)
    ax.tick_params(axis='y', which='major', pad=6)
    ax.tick_params(which='major', length=5, width=1)
    ax.tick_params(which='minor', length=3, width=1)
    for s in ax.spines.values():
        s.set_linewidth(1.1)
    # axis titles and panel tag
    cx = (l + r) / 2
    fig.text(cx / W, 1 - (b + 48) / H, 'h/b , α', fontstyle='italic', fontsize=17,
             ha='center', va='center')
    fig.text((l - 75) / W, 1 - ((t + b) / 2) / H, 'd(h/b)/dτ ,  dα/dτ', fontstyle='italic',
             fontsize=18, rotation=90, ha='center', va='center')
    fig.text((l - 76) / W, 1 - (b + 48) / H, p['tag'], fontsize=15.5, ha='center', va='center')

fig.savefig('out.png', dpi=100)
